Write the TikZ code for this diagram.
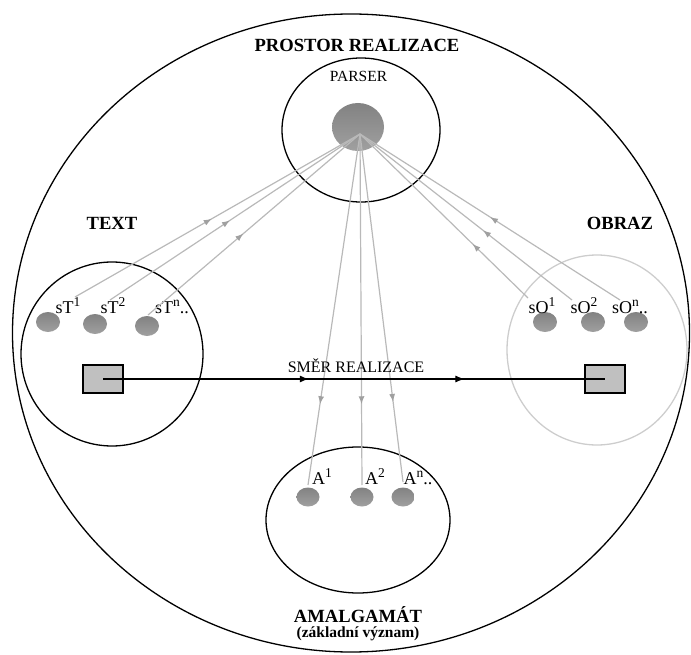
\documentclass[tikz,border=0pt]{standalone}
\usepackage{fontspec}
\setmainfont{Liberation Serif}
\usetikzlibrary{shapes.geometric,arrows.meta,decorations.markings}

\definecolor{linegray}{RGB}{185,185,185}
\definecolor{tipgray}{RGB}{160,160,160}
\definecolor{ringgray}{RGB}{205,205,205}
\definecolor{ballhi}{RGB}{130,130,130}
\definecolor{balllo}{RGB}{160,160,160}
\definecolor{boxgray}{RGB}{192,192,192}

% raised index of a unit label
\newcommand{\idx}[1]{\raisebox{0.36em}{\fontsize{13.5}{14}\selectfont #1}}

\tikzset{
  zone/.style={ellipse, draw=black, line width=1.3pt, inner sep=0pt},
  ball/.style={ellipse, inner sep=0pt, top color=ballhi, bottom color=balllo, draw=none},
  smallball/.style={ball, minimum width=24pt, minimum height=20pt},
  heading/.style={font=\fontsize{18.6}{20}\selectfont\bfseries, inner sep=0pt, anchor=base},
  lbl/.style={font=\fontsize{18}{19}\selectfont, inner sep=0pt, anchor=base},
  feed/.style={draw=linegray, line width=1.2pt, postaction={decorate},
    decoration={markings, mark=at position #1 with {\arrow{Latex[length=8pt,width=6pt,color=tipgray]}}}},
  flowline/.style={draw=black, line width=1.1pt, postaction={decorate},
    decoration={markings,
      mark=at position 0.41 with {\arrow{Latex[length=9pt,width=7pt]}},
      mark=at position 0.72 with {\arrow{Latex[length=9pt,width=7pt]}}}},
  unit/.style={draw=black, line width=1.1pt, fill=boxgray, minimum width=40pt, minimum height=28pt, inner sep=0pt}
}

\begin{document}
\begin{tikzpicture}[x=1pt,y=-1pt]
\useasboundingbox (0,0) rectangle (691,655);

% realization space and its regions
\node[zone, minimum width=677pt, minimum height=638pt] (space) at (351,333) {};
\node[zone, minimum width=158pt, minimum height=144pt] (parser) at (361,130) {};
\node[zone, minimum width=182pt, minimum height=184pt] (textzone) at (112,354) {};
\node[zone, draw=ringgray, minimum width=180pt, minimum height=190pt] (imagezone) at (597,350) {};
\node[zone, minimum width=184pt, minimum height=146pt] (amalgam) at (358,520) {};

% titles
\node[heading] (title) at (357,52) {PROSTOR REALIZACE};
\node[font=\fontsize{15.5}{17}\selectfont, inner sep=0pt, anchor=base] (parsertitle) at (358.5,82) {PARSER};
\node[heading] (texttitle) at (112,230) {TEXT};
\node[heading] (imagetitle) at (620,230) {OBRAZ};
\node[heading] (amalgamtitle) at (358,622) {AMALGAMÁT};
\node[font=\fontsize{15.5}{17}\selectfont\bfseries, inner sep=0pt, anchor=base] (meaning) at (358,637) {(základní význam)};

% parser core
\node[ball, minimum width=52pt, minimum height=48pt] (core) at (358,127) {};
\coordinate (hub) at (360,134);

% text units
\node[smallball] (st1) at (48,322) {};
\node[smallball] (st2) at (95,324) {};
\node[smallball] (stn) at (147,326) {};
\node[lbl] (lst1) at (68,313) {sT\idx{1}};
\node[lbl] (lst2) at (113,313) {sT\idx{2}};
\node[lbl] (lstn) at (172,313) {sT\idx{n}..};

% image units
\node[smallball] (so1) at (545,322) {};
\node[smallball] (so2) at (593,322) {};
\node[smallball] (son) at (636,322) {};
\node[lbl] (lso1) at (542,313) {sO\idx{1}};
\node[lbl] (lso2) at (584,313) {sO\idx{2}};
\node[lbl] (lson) at (630,313) {sO\idx{n}..};

% amalgam units
\node[smallball, minimum width=23pt, minimum height=19pt] (a1) at (308,497) {};
\node[smallball, minimum width=23pt, minimum height=19pt] (a2) at (362,497) {};
\node[smallball, minimum width=23pt, minimum height=19pt] (an) at (403,497) {};
\node[lbl] (la1) at (322,484) {A\idx{1}};
\node[lbl] (la2) at (375,484) {A\idx{2}};
\node[lbl] (lan) at (418,484) {A\idx{n}..};

% connector ends
\coordinate (et1) at (75,297);
\coordinate (et2) at (110,300);
\coordinate (etn) at (148,315);
\coordinate (eo1) at (528,298);
\coordinate (eo2) at (572,300);
\coordinate (eon) at (620,300);
\coordinate (ea1) at (308,485);
\coordinate (ea2) at (362,485);
\coordinate (ean) at (403,482);

% units feeding the parser
\draw[feed=0.48] (et1) -- (hub);
\draw[feed=0.48] (et2) -- (hub);
\draw[feed=0.45] (etn) -- (hub);
\draw[feed=0.33] (eo1) -- (hub);
\draw[feed=0.42] (eo2) -- (hub);
\draw[feed=0.50] (eon) -- (hub);

% parser output to the amalgam
\draw[feed=0.77] (hub) -- (ea1);
\draw[feed=0.77] (hub) -- (ea2);
\draw[feed=0.77] (hub) -- (ean);

% direction of realization
\node[unit] (textunit) at (103,379) {};
\node[unit] (imageunit) at (605,379) {};
\draw[flowline] (textunit.center) -- (imageunit.center);
\node[font=\fontsize{16}{18}\selectfont, inner sep=0pt, anchor=base] (direction) at (356,372) {SMĚR REALIZACE};
\end{tikzpicture}
\end{document}
